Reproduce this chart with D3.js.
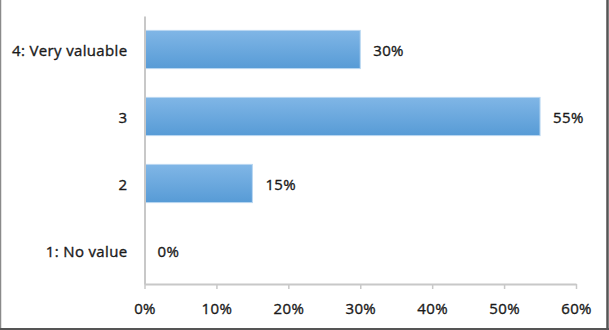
<!DOCTYPE html>
<html><head><meta charset="utf-8">
<script src="https://cdn.jsdelivr.net/npm/d3@7"></script>
<style>html,body{margin:0;padding:0;background:#fff;}svg{display:block;}</style>
</head><body>
<svg id="chart" width="609" height="330"></svg>
<script>
const categories = ["4: Very valuable", "3", "2", "1: No value"];
const values = [0.30, 0.55, 0.15, 0.00];
const valueLabels = ["30%", "55%", "15%", "0%"];
const tickValues = [0, 0.1, 0.2, 0.3, 0.4, 0.5, 0.6];

const svg = d3.select("#chart");
const W = 609, H = 330;
const m = {left: 144.5, right: 33, top: 16, bottom: 46};
const font = "'Open Sans', sans-serif";
const fs = 15;
const fw = 400;
const ls = 0.35;
const col = "#1a1a1a";

function styleText(sel) {
  sel.attr("font-family", font).attr("font-size", fs).attr("font-weight", fw).attr("fill", col)
    .attr("letter-spacing", ls).attr("stroke", col).attr("stroke-width", 0.35);
}

// frame
svg.append("line").attr("x1",0.5).attr("x2",0.5).attr("y1",0).attr("y2",H).attr("stroke","#8a8a8a").attr("stroke-width",1.5);
svg.append("line").attr("x1",607.5).attr("x2",607.5).attr("y1",0).attr("y2",H).attr("stroke","#555").attr("stroke-width",2.5);
svg.append("line").attr("x1",0).attr("x2",W).attr("y1",329).attr("y2",329).attr("stroke","#555").attr("stroke-width",2);

const x = d3.scaleLinear().domain([0, 0.6]).range([m.left, W - m.right]);
const y = d3.scaleBand().domain(categories).range([m.top, H - m.bottom]).paddingInner(0.43).paddingOuter(0.215);

const defs = svg.append("defs");
const grad = defs.append("linearGradient").attr("id","barGrad").attr("x1",0).attr("x2",0).attr("y1",0).attr("y2",1);
grad.append("stop").attr("offset","0%").attr("stop-color","#80b6e6");
grad.append("stop").attr("offset","100%").attr("stop-color","#579bd6");

// bars
svg.append("g").selectAll("rect").data(values).join("rect")
  .attr("x", x(0))
  .attr("y", (d,i) => y(categories[i]))
  .attr("width", d => x(d) - x(0))
  .attr("height", y.bandwidth())
  .attr("fill", "url(#barGrad)")
  .attr("stroke", d => d > 0 ? "#b9d7f1" : "none")
  .attr("stroke-width", 1);

// value labels
svg.append("g").selectAll("text").data(values).join("text")
  .attr("x", d => x(d) + 13)
  .attr("y", (d,i) => y(categories[i]) + y.bandwidth()/2)
  .attr("dy", "0.45em")
  .call(styleText)
  .text((d,i) => valueLabels[i]);

// x axis
const xAxis = d3.axisBottom(x).tickValues(tickValues).tickFormat(d3.format(".0%")).tickSize(5).tickSizeOuter(0);
const gx = svg.append("g").attr("transform", `translate(0,${H - m.bottom})`).call(xAxis);
gx.select(".domain").attr("stroke", "#c8c8c8").attr("stroke-width", 2);
gx.selectAll(".tick line").attr("stroke", "#c8c8c8").attr("stroke-width", 1.5);
gx.selectAll(".tick text").call(styleText).attr("y", 19).attr("dy", "0.71em");

// y axis
const yAxis = d3.axisLeft(y).tickSize(0).tickPadding(17);
const gy = svg.append("g").attr("transform", `translate(${m.left},0)`).call(yAxis);
gy.select(".domain").attr("stroke", "#c8c8c8").attr("stroke-width", 2);
gy.selectAll(".tick text").call(styleText).attr("dy", "0.45em");
</script>
</body></html>
